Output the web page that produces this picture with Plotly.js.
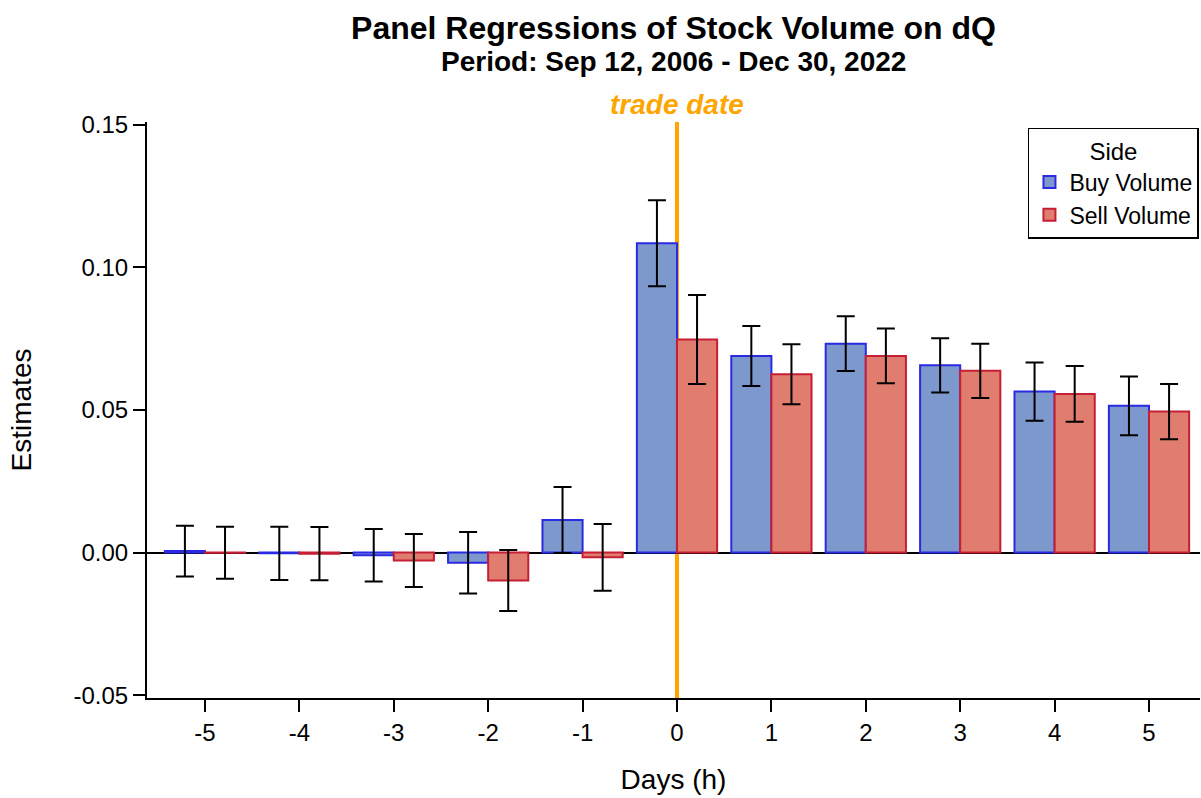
<!DOCTYPE html>
<html>
<head>
<meta charset="utf-8">
<script src="https://cdn.plot.ly/plotly-3.0.1.min.js"></script>
<style>html,body{margin:0;padding:0;background:#fff;}#chart{width:1201px;height:798px;}</style>
</head>
<body>
<div id="chart"></div>
<script>
var days = [-5, -4, -3, -2, -1, 0, 1, 2, 3, 4, 5];
var buyEstimates = [0.0005, -0.0003, -0.0010, -0.0036, 0.0114, 0.1084, 0.0689, 0.0732, 0.0656, 0.0564, 0.0514];
var buyErrors = [0.0089, 0.0093, 0.0092, 0.0108, 0.0116, 0.0151, 0.0105, 0.0096, 0.0095, 0.0102, 0.0103];
var sellEstimates = [-0.0001, -0.0004, -0.0028, -0.0098, -0.0017, 0.0747, 0.0625, 0.0689, 0.0637, 0.0556, 0.0494];
var sellErrors = [0.0091, 0.0093, 0.0093, 0.0107, 0.0117, 0.0156, 0.0105, 0.0096, 0.0095, 0.0098, 0.0097];
var yTickVals = [-0.05, 0, 0.05, 0.10, 0.15];
var yTickText = ["-0.05", "0.00", "0.05", "0.10", "0.15"];
var eventDay = 0;

var FONT = "Liberation Sans, Arial, sans-serif";

var traces = [
  {
    type: 'bar', name: 'Buy Volume', x: days, y: buyEstimates,
    marker: {color: 'rgb(125,152,204)', line: {color: 'rgb(42,42,228)', width: 2}},
    error_y: {type: 'data', array: buyErrors, visible: true, color: '#000', thickness: 2, width: 9}
  },
  {
    type: 'bar', name: 'Sell Volume', x: days, y: sellEstimates,
    marker: {color: 'rgb(224,125,110)', line: {color: 'rgb(198,30,52)', width: 2}},
    error_y: {type: 'data', array: sellErrors, visible: true, color: '#000', thickness: 2, width: 9}
  }
];

var layout = {
  width: 1201, height: 798,
  paper_bgcolor: '#fff', plot_bgcolor: '#fff',
  margin: {l: 147, r: 1, t: 122, b: 100},
  font: {family: FONT, color: '#000', size: 24},
  barmode: 'group', bargap: 0.15, bargroupgap: 0,
  showlegend: true,
  title: {
    text: '<b>Panel Regressions of Stock Volume on dQ</b>',
    font: {family: FONT, size: 32, color: '#000'},
    x: 0.5, xref: 'paper', xanchor: 'center',
    y: 1 - 28 / 798, yref: 'container', yanchor: 'middle'
  },
  xaxis: {
    range: [-5.614, 5.54],
    tickmode: 'array', tickvals: days, ticktext: days.map(String),
    showline: true, linecolor: '#000', linewidth: 2,
    ticks: 'outside', ticklen: 12, tickwidth: 2, tickcolor: '#000',
    showgrid: false, zeroline: false,
    tickfont: {family: FONT, size: 24},
    title: {text: 'Days (h)', font: {family: FONT, size: 28}, standoff: 25}
  },
  yaxis: {
    range: [-0.051, 0.1509],
    tickmode: 'array', tickvals: yTickVals, ticktext: yTickText,
    showline: true, linecolor: '#000', linewidth: 2,
    ticks: 'outside', ticklen: 12, tickwidth: 2, tickcolor: '#000',
    showgrid: false, zeroline: true, zerolinecolor: '#000', zerolinewidth: 2,
    tickfont: {family: FONT, size: 24},
    title: {text: 'Estimates', font: {family: FONT, size: 28}, standoff: 34}
  },
  legend: {
    x: 0.999, y: 0.99, xanchor: 'right', yanchor: 'top',
    bordercolor: '#000', borderwidth: 1.5, bgcolor: '#fff',
    font: {family: FONT, size: 23},
    title: {text: 'Side', side: 'top center', font: {family: FONT, size: 24}},
    tracegroupgap: 0
  },
  shapes: [{
    type: 'line', xref: 'x', yref: 'paper', x0: eventDay, x1: eventDay, y0: 0, y1: 1,
    line: {color: 'rgb(255,165,0)', width: 4}, layer: 'below'
  }],
  annotations: [
    {
      xref: 'paper', yref: 'paper', x: 0.5, y: (698 - 62) / 576, xanchor: 'center', yanchor: 'middle',
      showarrow: false, text: '<b>Period: Sep 12, 2006 - Dec 30, 2022</b>',
      font: {family: FONT, size: 28, color: '#000'}
    },
    {
      xref: 'x', yref: 'paper', x: eventDay, y: (698 - 104) / 576, yanchor: 'middle', xanchor: 'center',
      showarrow: false, text: '<b><i>trade date</i></b>',
      font: {family: FONT, size: 28, color: 'rgb(255,165,0)'}
    }
  ]
};

Plotly.newPlot('chart', traces, layout, {displayModeBar: false, staticPlot: true});
</script>
</body>
</html>
